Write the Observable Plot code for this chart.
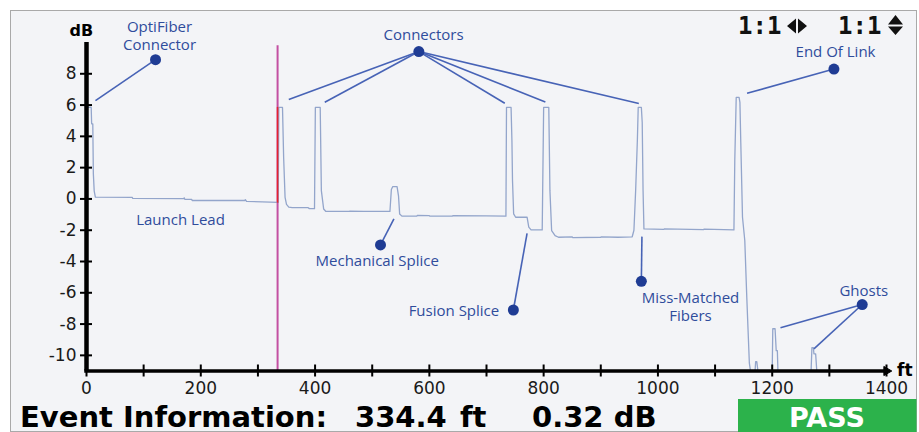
<!DOCTYPE html>
<html><head><meta charset="utf-8">
<script src="https://cdn.jsdelivr.net/npm/d3@7"></script>
<script src="https://cdn.jsdelivr.net/npm/@observablehq/plot@0.6"></script>
<style>
body{margin:0;background:#fff;}
#wrap{position:relative;width:919px;height:432px;overflow:hidden;background:#fff;}
#frame{position:absolute;left:10px;top:10px;width:907px;height:422px;box-sizing:border-box;border:1.5px solid #a9a9a9;background:#f3f4f7;}
#chart{position:absolute;left:0;top:0;}
#overlay{position:absolute;left:0;top:0;}
</style></head>
<body>
<div id="wrap">
  <div id="frame"></div>
  <div id="chart"></div>
  <svg id="overlay" width="919" height="432" xmlns="http://www.w3.org/2000/svg">
    <g font-family="DejaVu Sans Mono" font-weight="bold" font-size="24" fill="#111">
      <text x="738" y="34.3">1:1</text>
      <text x="838" y="34.3">1:1</text>
    </g>
    <path d="M787,26 L796,18.5 L796,33.5Z M798,18.5 L807,26 L798,33.5Z" fill="#111"/>
    <path d="M888,24.5 L895.5,15 L903,24.5Z M888,26.5 L903,26.5 L895.5,35Z" fill="#111"/>
    <text font-family="DejaVu Sans" font-weight="bold" font-size="29" y="426.5" fill="#000"><tspan x="20">Event Information:</tspan><tspan x="355">334.4</tspan><tspan x="460">ft</tspan><tspan x="532">0.32 dB</tspan></text>
    <rect x="738" y="399" width="178.5" height="33" fill="#2cb24b"/>
    <text x="827" y="426.5" text-anchor="middle" font-family="DejaVu Sans" font-weight="bold" font-size="27" fill="#fff">PASS</text>
  </svg>
</div>
<script>
// OTDR trace (distance in ft, level in dB)
const traceFt = [0.5, 8.2, 9, 11, 12, 13.5, 15.5, 80, 81, 170, 171, 172, 184, 185, 277, 278, 280, 335.5,
  336.5, 343, 345, 347.5, 350, 354, 360, 388, 390, 399,
  400.5, 409, 411, 415, 419, 460, 461, 485, 531,
  533.5, 536, 543.5, 546, 548, 552, 578, 579, 600, 601, 640, 641, 700, 734,
  735, 743, 744.5, 745.5, 747.5, 751, 771, 774, 778, 797.5,
  800, 809, 811, 814, 820, 826, 850, 851, 900, 901, 930, 955,
  958, 961, 964, 965.5, 971, 972.5, 974, 975.5, 1010, 1011, 1080, 1081, 1133,
  1134.5, 1137, 1142, 1143.5, 1145, 1148, 1152, 1155.5, 1158, 1160, 1162,
  1170, 1171, 1173, 1175, 1200, 1201, 1205, 1207, 1209, 1210,
  1268, 1269.5, 1272, 1273, 1276, 1278, 1300];
const traceDb = [5.85, 5.85, 4.8, 4.8, 1.6, 0.5, 0.12, 0.1, 0.03, 0.02, 0.07, -0.02, -0.03, -0.1, -0.1, -0.05, -0.15, -0.22,
  5.85, 5.85, 2.65, 0.1, -0.35, -0.52, -0.56, -0.56, -0.62, -0.62,
  5.85, 5.85, 0.53, -0.64, -0.8, -0.8, -0.78, -0.8, -0.8,
  0.6, 0.79, 0.79, 0.2, -0.96, -1.1, -1.1, -1.06, -1.07, -1.1, -1.1, -1.07, -1.08, -1.1,
  5.85, 5.85, 3.7, 1.2, -0.96, -1.17, -1.17, -1.8, -1.98, -1.98,
  5.85, 5.85, 0.53, -2.03, -2.35, -2.45, -2.42, -2.47, -2.45, -2.42, -2.45, -2.42,
  -2.0, 0.53, 3.73, 5.85, 5.85, 4.9, 0.53, -1.92, -1.95, -1.92, -1.96, -1.93, -1.98,
  2.45, 6.49, 6.49, 6.17, 3.62, -1.17, -2.66, -6.29, -8.63, -10.5, -11,
  -11, -10.4, -10.4, -11, -11, -8.3, -8.3, -9.7, -9.7, -11,
  -11, -9.5, -9.5, -9.9, -9.9, -11, -11];

// Event cursor
const cursorFt = [334.4];

// Annotation labels
const labelText = ["OptiFiber\nConnector", "Connectors", "End Of Link", "Launch Lead", "Mechanical Splice", "Fusion Splice", "Miss-Matched\nFibers", "Ghosts"];
const labelFt = [127.8, 589.8, 1310.8, 164.5, 508.8, 643, 1057, 1360.3];
const labelDb = [10.45, 10.55, 9.43, -1.28, -3.9, -7.09, -6.85, -5.86];

// Annotation dots
const dotFt = [120.8, 581.6, 1308, 514.5, 747, 971, 1357.5];
const dotDb = [8.9, 9.42, 8.3, -2.94, -7.1, -5.27, -6.75];

// Leader lines: dot index -> target point on trace
const leaderDot = [0, 1, 1, 1, 1, 1, 2, 3, 4, 5, 6, 6];
const leaderFt = [15.7, 354, 417, 732, 803, 966.6, 1156, 538, 771, 972, 1214.5, 1273];
const leaderDb = [6.28, 6.35, 6.18, 6.12, 6.2, 6.1, 6.75, -1.28, -2.2, -2.41, -8.24, -9.58];

// Axis ticks
const xTickMarks = d3.range(0, 1401, 100);
const xTickLabels = d3.range(0, 1401, 200);
const yTicks = d3.range(-10, 9, 2);

const trace = traceFt.map((x, i) => ({x, y: traceDb[i]}));
const labels = labelText.map((t, i) => ({t, x: labelFt[i], y: labelDb[i]}));
const dots = dotFt.map((x, i) => ({x, y: dotDb[i]}));
const leaders = leaderDot.map((d, i) => ({x1: dotFt[d], y1: dotDb[d], x2: leaderFt[i], y2: leaderDb[i]}));

const annColor = "#2f4c9c";
const chart = Plot.plot({
  width: 919, height: 402,
  marginLeft: 86, marginRight: 33, marginTop: 42, marginBottom: 31.5,
  x: {domain: [0, 1400]},
  y: {domain: [-11, 10]},
  style: {background: "transparent", fontFamily: "DejaVu Sans", fontSize: "17px", color: "#1a1a1a"},
  marks: [
    Plot.ruleX(cursorFt, {x: d => d, y1: -11, y2: 9.8, stroke: "#c350a2", strokeWidth: 2}),
    Plot.line(trace, {x: "x", y: "y", stroke: "#93a5cb", strokeWidth: 1.3}),
    Plot.ruleX(cursorFt, {x: d => d, y1: -0.28, y2: 5.85, stroke: "#e8202f", strokeWidth: 1.6}),
    Plot.link(leaders, {x1: "x1", y1: "y1", x2: "x2", y2: "y2", stroke: "#4763b6", strokeWidth: 1.6}),
    Plot.dot(dots, {x: "x", y: "y", r: 5.5, fill: "#1f3c94"}),
    Plot.text(labels, {x: "x", y: "y", text: "t", fill: annColor, fontFamily: "Open Sans", fontSize: 15, lineHeight: 1.2, lineAnchor: "middle"}),
    Plot.ruleX([0], {y1: -11, y2: 10, stroke: "#000", strokeWidth: 4.5}),
    Plot.ruleY([-11], {x1: 0, x2: 1400, stroke: "#000", strokeWidth: 3.5, strokeLinecap: "square"}),
    Plot.dot([1400], {x: d => d, y: -11, symbol: "triangle", rotate: 90, r: 3.4, fill: "#000", stroke: "#000", strokeWidth: 1}),
    Plot.axisX({ticks: xTickMarks, tickSize: 12, dy: -6, stroke: "#000", strokeWidth: 2, fill: "none", label: null}),
    Plot.axisX({ticks: xTickLabels, tickSize: 0, tickPadding: 10.7, tickFormat: d => String(d), label: null, fill: "#1a1a1a"}),
    Plot.axisY({ticks: yTicks, tickSize: 12, dx: 6, stroke: "#000", strokeWidth: 2, fill: "none", label: null}),
    Plot.axisY({ticks: yTicks, tickSize: 0, tickPadding: 10, tickFormat: d => String(d), label: null, fill: "#1a1a1a"}),
    Plot.text(["dB"], {frameAnchor: "top-left", text: d => d, dx: -17, dy: -6.3, lineAnchor: "bottom", textAnchor: "start", fontWeight: "bold", fontSize: 16, fill: "#000"}),
    Plot.text(["ft"], {frameAnchor: "bottom-right", text: d => d, dx: 10.5, dy: 0, lineAnchor: "middle", textAnchor: "start", fontWeight: "bold", fontSize: 17, fill: "#000"})
  ]
});
document.getElementById("chart").appendChild(chart);
</script>
</body></html>
